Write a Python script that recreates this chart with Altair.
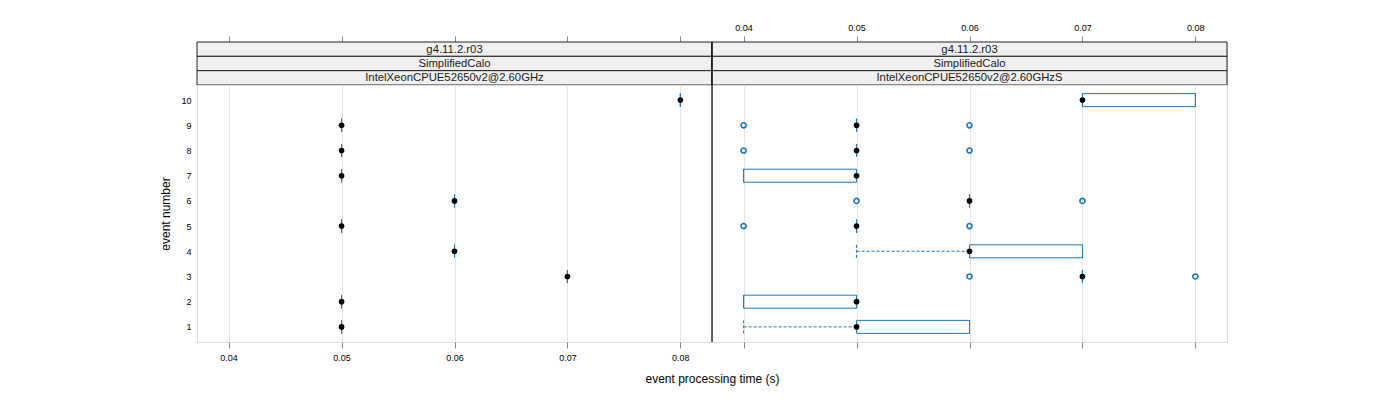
import altair as alt
import pandas as pd

# ---- data ----
events = [1, 2, 3, 4, 5, 6, 7, 8, 9, 10]
ghz_median = [0.05, 0.05, 0.07, 0.06, 0.05, 0.06, 0.05, 0.05, 0.05, 0.08]

ghzs_median = [0.05, 0.05, 0.07, 0.06, 0.05, 0.06, 0.05, 0.05, 0.05, 0.07]
ghzs_q1 = [0.05, 0.04, 0.07, 0.06, 0.05, 0.06, 0.04, 0.05, 0.05, 0.07]
ghzs_q3 = [0.06, 0.05, 0.07, 0.07, 0.05, 0.06, 0.05, 0.05, 0.05, 0.08]
ghzs_wlo = [0.04, 0.04, 0.07, 0.05, 0.05, 0.06, 0.04, 0.05, 0.05, 0.07]
ghzs_whi = [0.06, 0.05, 0.07, 0.07, 0.05, 0.06, 0.05, 0.05, 0.05, 0.08]

out_event = [3, 3, 5, 5, 6, 6, 8, 8, 9, 9]
out_value = [0.06, 0.08, 0.04, 0.06, 0.05, 0.07, 0.04, 0.06, 0.04, 0.06]

strip_top = ["g4.11.2.r03", "SimplifiedCalo"]
cpu_names = ["IntelXeonCPUE52650v2@2.60GHz", "IntelXeonCPUE52650v2@2.60GHzS"]
x_ticks = [0.04, 0.05, 0.06, 0.07, 0.08]
y_ticks = events

# ---- styling ----
BLUE = "#1a78c2"
FONT = "Liberation Sans"
W = 515
H = 257
SH = 43

xscale = alt.Scale(domain=[0.0372, 0.0828], nice=False, zero=False)
yscale = alt.Scale(domain=[0.4, 10.6], nice=False, zero=False)


def divider(height):
    # dark line where the two panels meet
    return alt.Chart(pd.DataFrame({"d": [0]})).mark_rule(
        color="#000", strokeWidth=1.2).encode(
        x=alt.value(0), y=alt.value(0), y2=alt.value(height))


def panel(df, outl, left):
    if left:
        xaxis = alt.Axis(values=x_ticks, format=".2f", tickSize=6, domain=False,
                         grid=True, gridColor="#e6e6e6", labelFontSize=9,
                         labelPadding=5, title="event processing time (s)",
                         titleX=W, titleY=31, titleFontSize=12,
                         titleFontWeight="normal")
        yaxis = alt.Axis(values=y_ticks, format="d", ticks=False, domain=False,
                         grid=False, labelFontSize=9, labelPadding=6,
                         title="event number", titleFontSize=12,
                         titleFontWeight="normal", titlePadding=8)
    else:
        xaxis = alt.Axis(values=x_ticks, tickSize=6, domain=False, grid=True,
                         gridColor="#e6e6e6", labels=False, title=None)
        yaxis = None

    def X(f):
        return alt.X(f"{f}:Q", scale=xscale, axis=xaxis)

    def Y():
        if yaxis is None:
            return alt.Y("event:Q", scale=yscale, axis=None)
        return alt.Y("event:Q", scale=yscale, axis=yaxis)

    base = alt.Chart(df)
    wl = base.mark_rule(color=BLUE, strokeDash=[3, 2], strokeWidth=1).encode(
        x=X("wlo"), x2="q1:Q", y=Y())
    wh = base.mark_rule(color=BLUE, strokeDash=[3, 2], strokeWidth=1).encode(
        x=X("q3"), x2="whi:Q", y=Y())
    sl = base.mark_rule(color=BLUE, strokeDash=[3, 2], strokeWidth=1,
                        yOffset=-6.5, y2Offset=6.5).encode(
        x=X("wlo"), y=Y(), y2="event:Q")
    sh = base.mark_rule(color=BLUE, strokeDash=[3, 2], strokeWidth=1,
                        yOffset=-6.5, y2Offset=6.5).encode(
        x=X("whi"), y=Y(), y2="event:Q")
    box = base.mark_rect(fillOpacity=0, stroke=BLUE, strokeWidth=1,
                         yOffset=-6.5, y2Offset=6.5).encode(
        x=X("q1"), x2="q3:Q", y=Y(), y2="event:Q")
    layers = [wl, wh, sl, sh, box]
    if outl is not None:
        op = alt.Chart(outl).mark_point(shape="circle", filled=False, size=26,
                                        strokeWidth=1.6, color=BLUE, opacity=1).encode(
            x=X("value"), y=Y())
        layers.append(op)
    med = base.mark_circle(size=32, color="black", opacity=1).encode(
        x=X("median"), y=Y())
    layers.append(med)
    if not left:
        layers.append(divider(H))
    return alt.layer(*layers).properties(width=W, height=H)


def strip(cpu, left):
    sdf = pd.DataFrame({"row": [0, 1, 2], "label": [strip_top[0], strip_top[1], cpu]})
    rect = alt.Chart(sdf).mark_rect(fill="#f0f0f0", stroke="#222", strokeWidth=1).encode(
        y=alt.Y("row:O", scale=alt.Scale(paddingInner=0, paddingOuter=0), axis=None),
        x=alt.value(0), x2=alt.value(W))
    txt = alt.Chart(sdf).mark_text(fontSize=11.3, font=FONT, color="#1a1a1a",
                                   baseline="middle", dy=0.5).encode(
        y=alt.Y("row:O", scale=alt.Scale(paddingInner=0, paddingOuter=0), axis=None),
        x=alt.value(W / 2), text="label:N")
    tax = alt.Axis(orient="top", values=x_ticks, format=".2f", tickSize=6,
                   domain=False, grid=False, labels=not left, labelFontSize=9,
                   labelPadding=4, title=None)
    tk = alt.Chart(pd.DataFrame({"t": x_ticks})).mark_rule(opacity=0).encode(
        x=alt.X("t:Q", scale=xscale, axis=tax))
    layers = [tk, rect, txt]
    if not left:
        layers.append(divider(SH))
    return alt.layer(*layers).properties(width=W, height=SH)


left_df = pd.DataFrame({"event": events, "median": ghz_median, "q1": ghz_median,
                        "q3": ghz_median, "wlo": ghz_median, "whi": ghz_median})
right_df = pd.DataFrame({"event": events, "median": ghzs_median, "q1": ghzs_q1,
                         "q3": ghzs_q3, "wlo": ghzs_wlo, "whi": ghzs_whi})
out_df = pd.DataFrame({"event": out_event, "value": out_value})

chart = alt.concat(
    strip(cpu_names[0], True), strip(cpu_names[1], False),
    panel(left_df, None, True), panel(right_df, out_df, False),
    columns=2, spacing=0, bounds="flush",
).properties(
    padding={"left": 151, "top": 14, "right": 5, "bottom": 5}
).configure_view(
    stroke="#555", strokeWidth=1
).configure_axis(
    labelFont=FONT, titleFont=FONT, labelColor="#222", titleColor="#111",
    tickColor="#333"
).configure(background="white")

chart.save("out.html", embed_options={"renderer": "svg", "actions": False})
